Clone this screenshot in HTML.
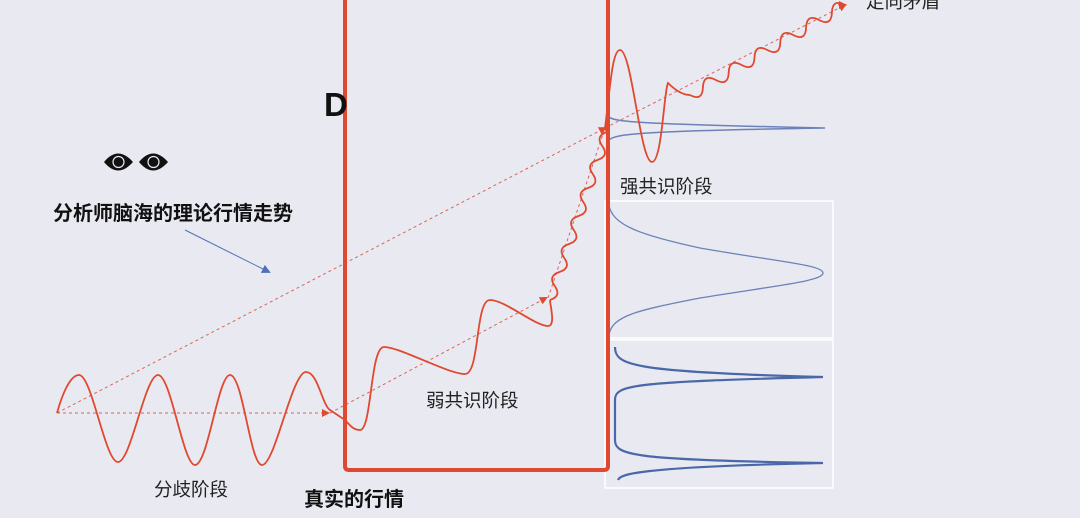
<!DOCTYPE html>
<html><head><meta charset="utf-8"><style>
html,body{margin:0;padding:0;background:#e9eaf1;}
svg{display:block;}
text{font-family:"Liberation Sans","Noto Sans CJK SC",sans-serif;}
</style></head><body>
<svg width="1080" height="518" viewBox="0 0 1080 518" xmlns="http://www.w3.org/2000/svg">
<defs>
<marker id="ar" markerWidth="8" markerHeight="8" refX="6" refY="4" orient="auto" markerUnits="userSpaceOnUse"><path d="M0,0 L8,4 L0,8 z" fill="#e0482f"/></marker>
<marker id="ab" markerWidth="9" markerHeight="9" refX="7" refY="4.5" orient="auto" markerUnits="userSpaceOnUse"><path d="M0,0 L9,4.5 L0,9 z" fill="#4f6fb8"/></marker>
</defs>
<rect width="1080" height="518" fill="#e9eaf1"/>
<rect x="605" y="201" width="228" height="137" fill="none" stroke="#ffffff" stroke-width="1.5"/>
<rect x="605" y="340" width="228" height="148" fill="none" stroke="#ffffff" stroke-width="1.5"/>
<path d="M609,117 C615,122 640,124 825,128 C640,131 615,134 609,140" fill="none" stroke="#6b82b8" stroke-width="1.5"/>
<path d="M609,205 C612,225 640,235 700,248 C780,262 823,265 823,273 C823,281 780,285 700,298 C640,310 612,315 609,335" fill="none" stroke="#6b82b8" stroke-width="1.3"/>
<path d="M615,347 C615,365 630,372 823,377 C630,382 615,385 615,400 L615,440 C615,455 630,460 823,463 C630,467 620,475 618,480" fill="none" stroke="#4a68a8" stroke-width="2.2"/>
<g stroke="#d9645a" stroke-width="1" stroke-dasharray="3,3" fill="none">
<line x1="57" y1="413" x2="328" y2="413" marker-end="url(#ar)"/>
<line x1="57" y1="413" x2="605" y2="128" marker-end="url(#ar)"/>
<line x1="330" y1="413" x2="546" y2="298" marker-end="url(#ar)"/>
<line x1="548" y1="298" x2="605" y2="128"/>
<line x1="605" y1="128" x2="845" y2="5" marker-end="url(#ar)"/>
</g>
<g fill="none" stroke="#e0482f" stroke-width="1.8">
<path d="M57,413 C62,395 70,375 79,375 C92,375 105,462 118,462 C131,462 145,375 158,375 C171,375 183,465 195,465 C208,465 218,375 230,375 C243,375 250,465 262,465 C275,465 292,372 306,372 C318,372 322,405 330,410 L345,420 C352,428 355,430 360,430 C372,430 370,347 384,347 C400,347 448,374 465,374 C480,374 475,300 490,300 C505,300 535,326 548,326 C556,326 550,305 550,300"/>
<path d="M550,300 q 11.9 -3.8 4.75 -14 t 4.75 -14 t 4.75 -14 t 4.75 -14 t 4.75 -14 t 4.75 -14 t 4.75 -14 t 4.75 -14 t 4.75 -14 t 4.75 -14 t 4.75 -14 t 4.75 -14 L605,128"/>
<path d="M605,128 C610,90 612,50 620,50 C632,50 640,162 652,162 C662,162 664,90 668,83 C675,90 682,95 690,95"/>
<path d="M690,95 q 12.45 6.65 12.9 -7.5 t 12.9 -7.5 t 12.9 -7.5 t 12.9 -7.5 t 12.9 -7.5 t 12.9 -7.5 t 12.9 -7.5 t 12.9 -7.5 t 12.9 -7.5 t 12.9 -7.5 t 12.9 -7.5 t 12.9 -7.5 L845,5" marker-end="url(#ar)"/>
</g>
<path d="M345,-10 L345,466 Q345,470 349,470 L604,470 Q608,470 608,466 L608,-10" fill="none" stroke="#e0482f" stroke-width="4"/>
<line x1="185" y1="230" x2="269" y2="272" stroke="#4f6fb8" stroke-width="1" marker-end="url(#ab)"/>
<g fill="#111">
<path d="M104,162 Q118,145 133,162 Q118,179 104,162 z"/>
<path d="M139,162 Q153,145 168,162 Q153,179 139,162 z"/>
</g>
<circle cx="118.5" cy="162" r="5.5" fill="none" stroke="#e9eaf1" stroke-width="1.2"/>
<circle cx="153.5" cy="162" r="5.5" fill="none" stroke="#e9eaf1" stroke-width="1.2"/>
<text x="324" y="116" font-size="33" font-weight="bold" fill="#111">D</text>
<text x="53" y="220" font-size="20" font-weight="bold" fill="#111">分析师脑海的理论行情走势</text>
<text x="620" y="193" font-size="18.5" fill="#222">强共识阶段</text>
<text x="426" y="407" font-size="18.5" fill="#222">弱共识阶段</text>
<text x="154" y="496" font-size="18.5" fill="#222">分歧阶段</text>
<text x="304" y="506" font-size="20" font-weight="bold" fill="#111">真实的行情</text>
<text x="866" y="8" font-size="18.5" fill="#222">走向矛盾</text>
</svg>
</body></html>
